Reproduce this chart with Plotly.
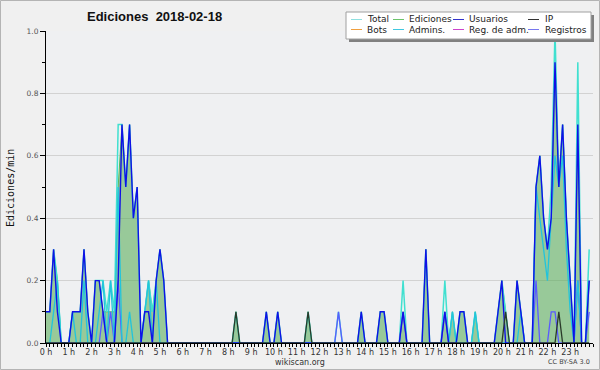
import plotly.graph_objects as go

# ---- data: edits per minute, one value per 10-minute bucket (6 per hour) ----
hour_labels = [f"{h} h" for h in range(24)]
ediciones = [
    0.1, 0.1, 0.3, 0.2, 0, 0,
    0, 0.1, 0.1, 0.1, 0.3, 0.1,
    0, 0.2, 0.2, 0.1, 0.1, 0.1,
    0.1, 0.5, 0.7, 0.5, 0.7, 0.4,
    0.5, 0, 0.1, 0.2, 0.1, 0.2,
    0.3, 0.2, 0, 0, 0, 0,
    0, 0, 0, 0, 0, 0,
    0, 0, 0, 0, 0, 0,
    0, 0, 0.1, 0, 0, 0,
    0, 0, 0, 0, 0.1, 0,
    0, 0.1, 0, 0, 0, 0,
    0, 0, 0, 0.1, 0, 0,
    0, 0, 0, 0, 0, 0,
    0, 0, 0, 0, 0, 0.1,
    0, 0, 0, 0, 0.1, 0.1,
    0, 0, 0, 0, 0.1, 0,
    0, 0, 0, 0, 0.3, 0,
    0, 0, 0, 0.1, 0, 0.1,
    0, 0.1, 0.1, 0, 0, 0.1,
    0, 0, 0, 0, 0, 0.1,
    0.2, 0.1, 0, 0, 0.2, 0.1,
    0, 0, 0, 0.5, 0.6, 0.4,
    0.3, 0.4, 0.9, 0.5, 0.7, 0.4,
    0.2, 0, 0.7, 0, 0, 0.2,
]
total = [
    0.1, 0.1, 0.3, 0.2, 0, 0,
    0, 0.1, 0.1, 0.1, 0.3, 0.1,
    0, 0.2, 0.2, 0.2, 0.1, 0.2,
    0.1, 0.7, 0.7, 0.5, 0.7, 0.4,
    0.5, 0, 0.1, 0.2, 0.1, 0.2,
    0.3, 0.2, 0, 0, 0, 0,
    0, 0, 0, 0, 0, 0,
    0, 0, 0, 0, 0, 0,
    0, 0, 0.1, 0, 0, 0,
    0, 0, 0, 0, 0.1, 0,
    0, 0.1, 0, 0, 0, 0,
    0, 0, 0, 0.1, 0, 0,
    0, 0, 0, 0, 0, 0.1,
    0, 0, 0, 0, 0, 0.1,
    0, 0, 0, 0, 0.1, 0.1,
    0, 0, 0, 0, 0.2, 0,
    0, 0, 0, 0, 0.3, 0,
    0, 0, 0, 0.2, 0, 0.1,
    0, 0.1, 0.1, 0, 0, 0.1,
    0, 0, 0, 0, 0, 0.1,
    0.2, 0.1, 0, 0, 0.2, 0.1,
    0, 0, 0, 0.5, 0.6, 0.4,
    0.3, 0.5, 1.0, 0.5, 0.7, 0.4,
    0.2, 0, 0.9, 0, 0, 0.3,
]
usuarios = [
    0.1, 0.1, 0.3, 0.1, 0, 0,
    0, 0.1, 0.1, 0.1, 0.3, 0.1,
    0, 0.2, 0.2, 0.1, 0, 0,
    0, 0.2, 0.7, 0.5, 0.7, 0.4,
    0.5, 0, 0.1, 0.1, 0, 0.2,
    0.3, 0.2, 0, 0, 0, 0,
    0, 0, 0, 0, 0, 0,
    0, 0, 0, 0, 0, 0,
    0, 0, 0, 0, 0, 0,
    0, 0, 0, 0, 0.1, 0,
    0, 0.1, 0, 0, 0, 0,
    0, 0, 0, 0, 0, 0,
    0, 0, 0, 0, 0, 0,
    0, 0, 0, 0, 0, 0.1,
    0, 0, 0, 0, 0.1, 0.1,
    0, 0, 0, 0, 0.1, 0,
    0, 0, 0, 0, 0.3, 0,
    0, 0, 0, 0.1, 0, 0,
    0, 0.1, 0.1, 0, 0, 0,
    0, 0, 0, 0, 0, 0.1,
    0.2, 0, 0, 0, 0.2, 0.1,
    0, 0, 0, 0.5, 0.6, 0.4,
    0.3, 0.4, 0.9, 0.5, 0.7, 0.4,
    0.2, 0, 0.7, 0, 0, 0.2,
]
admins = [
    0, 0, 0.1, 0.2, 0, 0,
    0, 0.1, 0, 0, 0.2, 0,
    0, 0, 0.1, 0.2, 0, 0.2,
    0, 0.5, 0, 0, 0.1, 0,
    0, 0, 0.1, 0.2, 0, 0.2,
    0, 0, 0, 0, 0, 0,
    0, 0, 0, 0, 0, 0,
    0, 0, 0, 0, 0, 0,
    0, 0, 0, 0, 0, 0,
    0, 0, 0, 0, 0, 0,
    0, 0, 0, 0, 0, 0,
    0, 0, 0, 0, 0, 0,
    0, 0, 0, 0, 0, 0,
    0, 0, 0, 0, 0, 0,
    0, 0, 0, 0, 0, 0,
    0, 0, 0, 0, 0, 0,
    0, 0, 0, 0, 0, 0,
    0, 0, 0, 0, 0, 0.1,
    0, 0, 0, 0, 0, 0.1,
    0, 0, 0, 0, 0, 0,
    0, 0, 0, 0, 0, 0.1,
    0, 0, 0, 0.5, 0.4, 0.3,
    0.2, 0.4, 0.6, 0.5, 0.6, 0.3,
    0.1, 0, 0.2, 0, 0, 0.2,
]
registros = [0.0] * 144
for i, v in [(15, 0.1), (17, 0.1), (19, 0.2), (77, 0.1), (94, 0.1), (105, 0.1),
             (129, 0.2), (133, 0.1), (134, 0.1), (140, 0.2), (143, 0.1)]:
    registros[i] = v
ip = [0.0] * 144
for i, v in [(50, 0.1), (69, 0.1), (121, 0.1), (135, 0.1)]:
    ip[i] = v

legend_names = [["Total", "Ediciones", "Usuarios", "IP"],
                ["Bots", "Admins.", "Reg. de adm.", "Registros"]]
legend_colors = [["#8fe0e0", "#6cc46c", "#3333cc", "#333333"],
                 ["#f0a040", "#40c8e0", "#cc44cc", "#7777ee"]]

# ---- geometry (pixels) ----
W, H = 600, 370
L, R, T, B = 46, 7, 31, 27
PW, PH = W - L - R, H - T - B

def px(x):
    return (x - L) / PW

def py(y):
    return (H - B - y) / PH

hours = [i / 6 for i in range(144)]

fig = go.Figure()
fig.add_trace(go.Scatter(x=hours, y=ediciones, mode="lines", fill="tozeroy",
                         fillcolor="rgba(80,170,80,0.55)",
                         line=dict(color="#5cb85c", width=1), name="Ediciones"))
fig.add_trace(go.Scatter(x=hours, y=total, mode="lines",
                         line=dict(color="#40e0d0", width=1.5), name="Total"))
fig.add_trace(go.Scatter(x=hours, y=registros, mode="lines",
                         line=dict(color="#5a5aff", width=1.3), name="Registros"))
fig.add_trace(go.Scatter(x=hours, y=admins, mode="lines",
                         line=dict(color="#22c4dc", width=1.3), name="Admins."))
fig.add_trace(go.Scatter(x=hours, y=usuarios, mode="lines",
                         line=dict(color="#1010e6", width=1.4), name="Usuarios"))
fig.add_trace(go.Scatter(x=hours, y=ip, mode="lines",
                         line=dict(color="#2a3a2a", width=1.3), name="IP"))

shapes = []
annotations = []
# outer border
shapes.append(dict(type="rect", xref="paper", yref="paper",
                   x0=px(0.5), x1=px(W - 0.5), y0=py(H - 0.5), y1=py(0.5),
                   line=dict(color="#b4b4b4", width=1), fillcolor="rgba(0,0,0,0)", layer="below"))
# legend shadow + box
shapes.append(dict(type="rect", xref="paper", yref="paper",
                   x0=px(349), x1=px(594), y0=py(42), y1=py(15),
                   line=dict(width=0), fillcolor="#808080"))
shapes.append(dict(type="rect", xref="paper", yref="paper",
                   x0=px(346), x1=px(591), y0=py(39), y1=py(12),
                   line=dict(color="#a0a0a0", width=1), fillcolor="#ffffff"))
col_line = [351, 393, 453, 528]
col_text = [365, 407, 467, 543]
row_y = [19.5, 29.5]
for r in range(2):
    for c in range(4):
        shapes.append(dict(type="line", xref="paper", yref="paper",
                           x0=px(col_line[c]), x1=px(col_line[c] + 11),
                           y0=py(row_y[r]), y1=py(row_y[r]),
                           line=dict(color=legend_colors[r][c], width=1)))
        annotations.append(dict(text=legend_names[r][c], xref="paper", yref="paper",
                                x=px(col_text[c]), y=py(row_y[r]), xanchor="left",
                                yanchor="middle", showarrow=False,
                                font=dict(family="DejaVu Sans", size=9, color="#222")))

annotations.append(dict(text="<b>Ediciones\u00a0\u00a02018-02-18</b>", xref="paper", yref="paper",
                        x=px(154), y=py(17), xanchor="center", yanchor="middle",
                        showarrow=False,
                        font=dict(family="Liberation Sans", size=13, color="#111")))
annotations.append(dict(text="Ediciones/min", xref="paper", yref="paper",
                        x=px(10), y=py(188), xanchor="center", yanchor="middle",
                        textangle=-90, showarrow=False,
                        font=dict(family="DejaVu Sans Mono", size=10, color="#111")))
annotations.append(dict(text="wikiscan.org", xref="paper", yref="paper",
                        x=px(300), y=py(362), xanchor="center", yanchor="middle",
                        showarrow=False,
                        font=dict(family="DejaVu Sans", size=8, color="#333")))
annotations.append(dict(text="CC BY-SA 3.0", xref="paper", yref="paper",
                        x=px(569), y=py(362), xanchor="center", yanchor="middle",
                        showarrow=False,
                        font=dict(family="DejaVu Sans", size=6.5, color="#444")))

fig.update_layout(
    width=W, height=H,
    margin=dict(l=L, r=R, t=T, b=B, pad=0),
    paper_bgcolor="#f0f0f0", plot_bgcolor="#eff0f2",
    showlegend=False,
    shapes=shapes, annotations=annotations,
    xaxis=dict(range=[0, 24], tickvals=list(range(24)), ticktext=hour_labels,
               ticks="outside", ticklen=3, tickcolor="#000", tickwidth=1,
               ticklabelstandoff=-2,
               showline=True, linecolor="#000", linewidth=1, showgrid=False,
               zeroline=False, fixedrange=True, automargin=False,
               tickfont=dict(family="DejaVu Sans", size=8, color="#333"),
               minor=dict(dtick=1 / 6, tick0=0, ticks="outside", ticklen=3,
                          tickcolor="#000", showgrid=False)),
    yaxis=dict(range=[0, 1], tickvals=[0, 0.2, 0.4, 0.6, 0.8, 1.0],
               ticktext=["0.0", "0.2", "0.4", "0.6", "0.8", "1.0"],
               ticks="outside", ticklen=5, tickcolor="#000", tickwidth=1,
               showline=True, linecolor="#000", linewidth=1,
               showgrid=True, gridcolor="#d2d2d2", gridwidth=1,
               zeroline=False, fixedrange=True, automargin=False,
               tickfont=dict(family="DejaVu Sans", size=7.5, color="#555"),
               minor=dict(dtick=0.1, tick0=0, ticks="outside", ticklen=3,
                          tickcolor="#000", showgrid=False)),
)

fig.write_html("out.html", config={"displayModeBar": False},
               post_script="document.body.style.margin='0';document.body.style.padding='0';")
